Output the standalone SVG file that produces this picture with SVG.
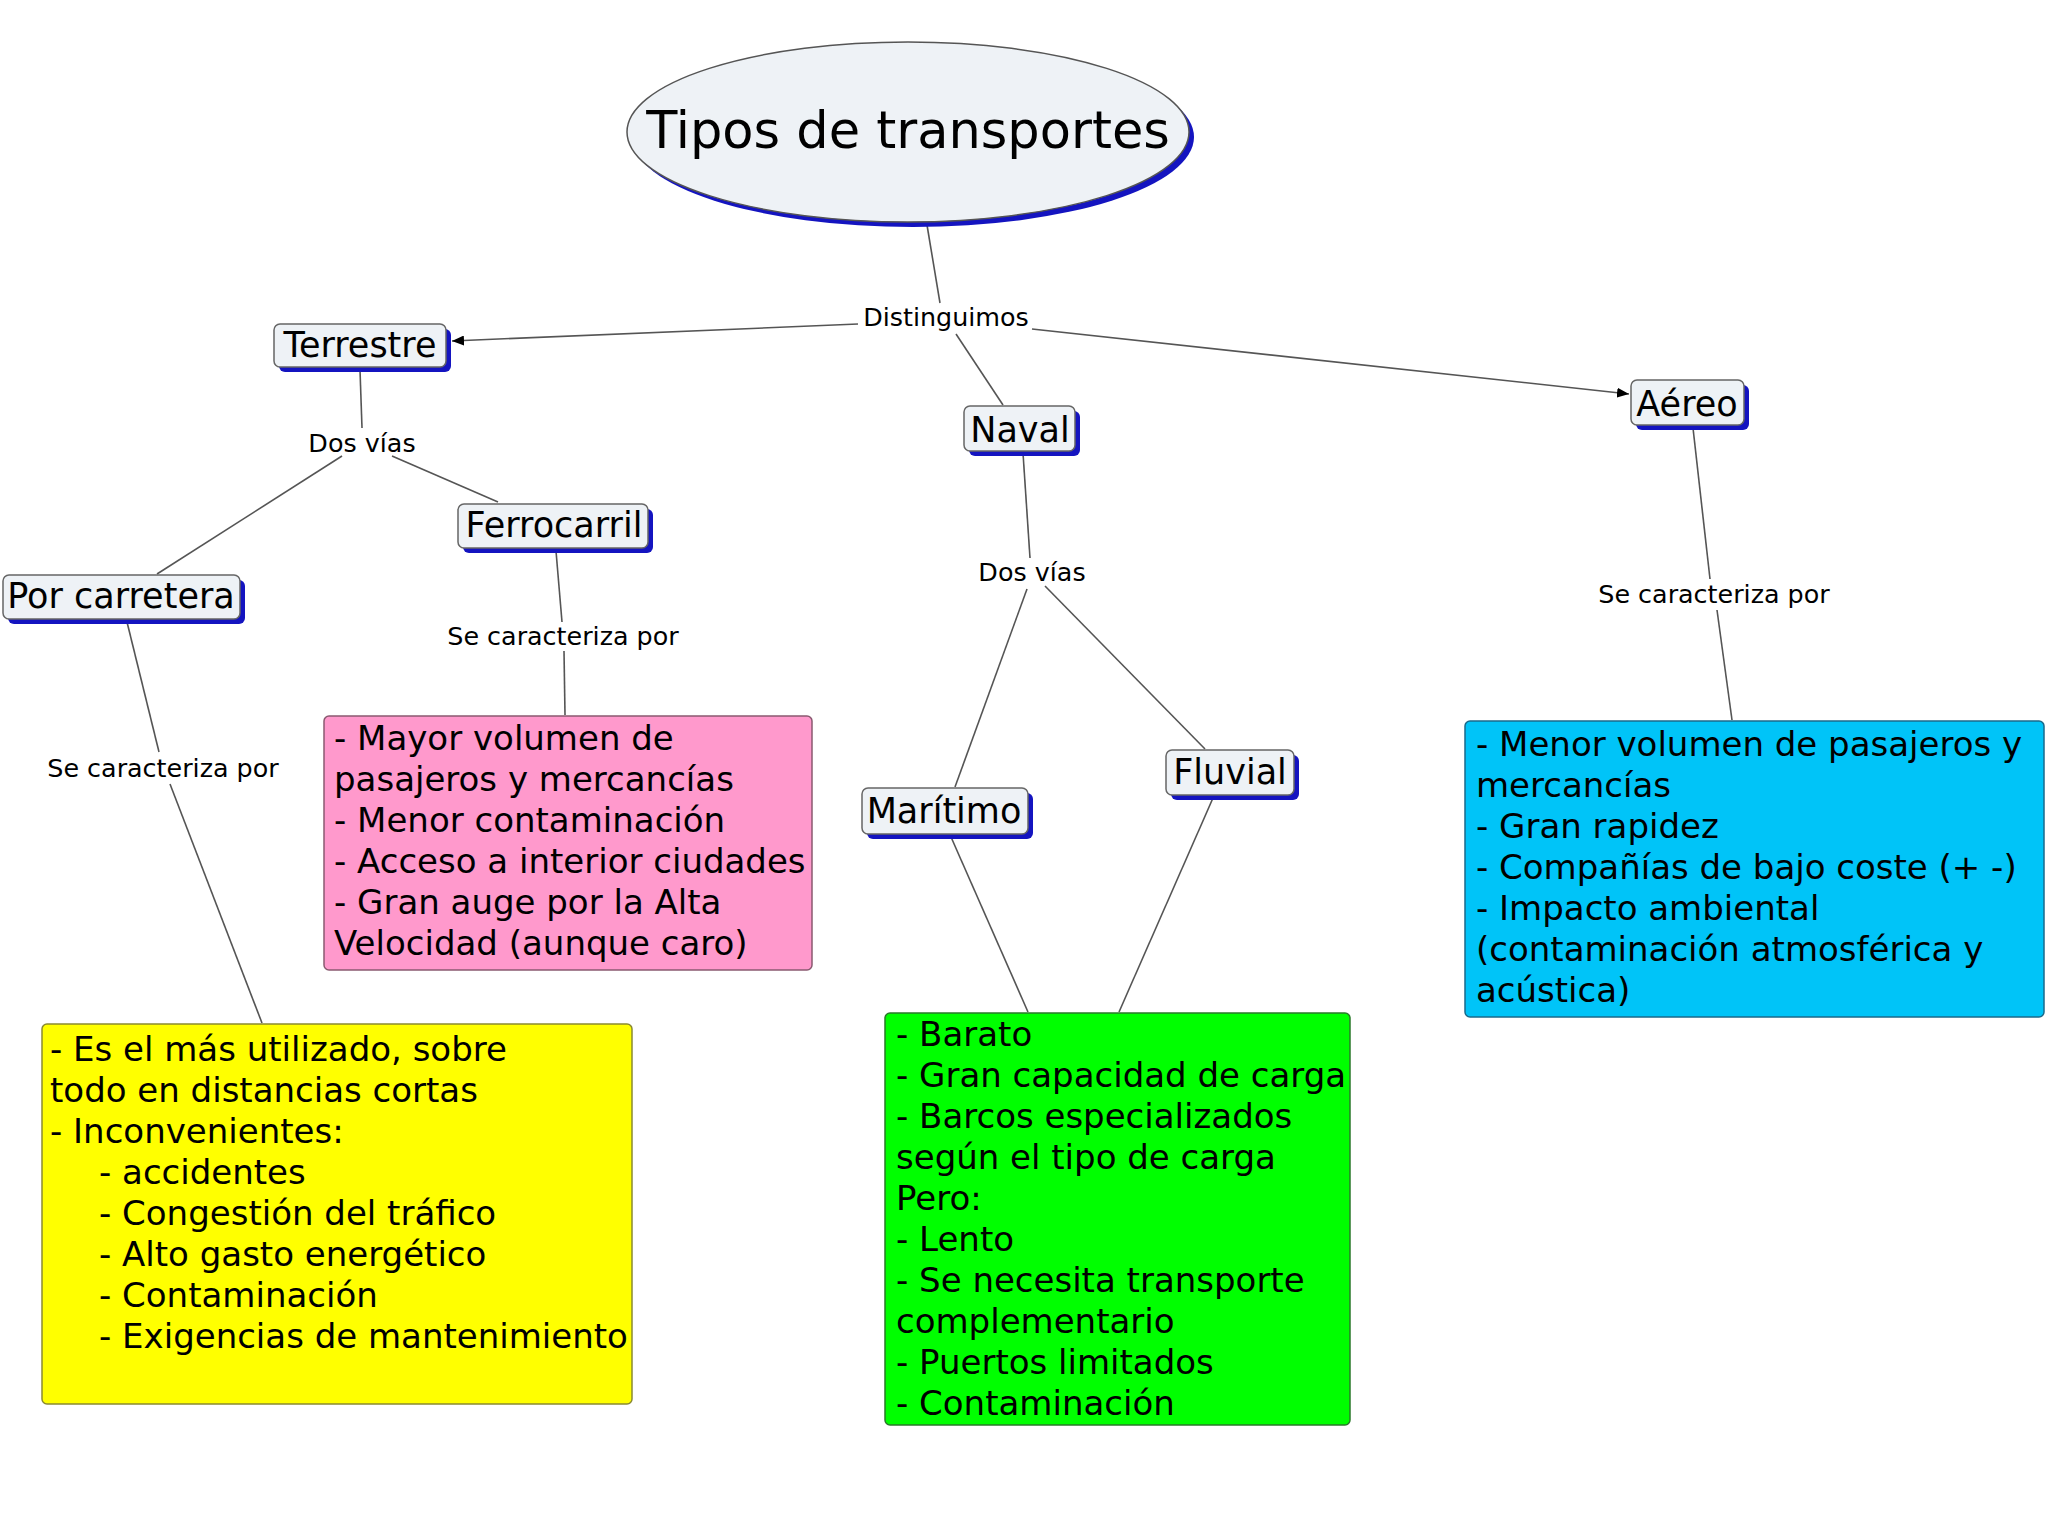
<svg xmlns="http://www.w3.org/2000/svg" width="2048" height="1536" viewBox="0 0 2048 1536">
<defs>
<marker id="arr" viewBox="0 0 12 10" refX="12" refY="5" markerWidth="12" markerHeight="10" markerUnits="userSpaceOnUse" orient="auto">
<path d="M0,0 L12,5 L0,10 Z" fill="#000"/>
</marker>
</defs>
<style>
.node rect.bg{fill:#eef2f6;stroke:#666;stroke-width:1.5}
.node rect.sh{fill:#1414c0}
.nt{font-family:"DejaVu Sans",Verdana,sans-serif;font-size:35px;fill:#000;text-anchor:middle}
.lbl{font-family:"DejaVu Sans",Verdana,sans-serif;font-size:25.4px;fill:#000;text-anchor:middle}
.bt{font-family:"DejaVu Sans",Verdana,sans-serif;font-size:34px;fill:#000}
.conn line{stroke:#555;stroke-width:1.6;fill:none}
</style>
<rect width="2048" height="1536" fill="#fff"/>

<g class="conn" id="connectors">
<line x1="927" y1="225" x2="940" y2="303"/>
<line x1="858" y1="324" x2="452" y2="341" marker-end="url(#arr)"/>
<line x1="956" y1="334" x2="1003" y2="405"/>
<line x1="1032" y1="329" x2="1629" y2="394" marker-end="url(#arr)"/>
<line x1="360" y1="370" x2="362" y2="428"/>
<line x1="342" y1="456" x2="157" y2="574"/>
<line x1="392" y1="456" x2="498" y2="502"/>
<line x1="556" y1="551" x2="562" y2="622"/>
<line x1="564" y1="651" x2="565" y2="715"/>
<line x1="127" y1="622" x2="159" y2="752"/>
<line x1="170" y1="784" x2="262" y2="1023"/>
<line x1="1023" y1="453" x2="1030" y2="558"/>
<line x1="1027" y1="589" x2="955" y2="787"/>
<line x1="1045" y1="586" x2="1205" y2="749"/>
<line x1="951" y1="837" x2="1028" y2="1012"/>
<line x1="1213" y1="798" x2="1119" y2="1012"/>
<line x1="1693" y1="428" x2="1710" y2="579"/>
<line x1="1717" y1="610" x2="1732" y2="720"/>
</g>

<g id="lbl-distinguimos"><text class="lbl" x="946" y="326">Distinguimos</text></g>
<g id="lbl-dosvias1"><text class="lbl" x="362" y="452">Dos vías</text></g>
<g id="lbl-secar1"><text class="lbl" x="563" y="645">Se caracteriza por</text></g>
<g id="lbl-secar2"><text class="lbl" x="163" y="777">Se caracteriza por</text></g>
<g id="lbl-dosvias2"><text class="lbl" x="1032" y="581">Dos vías</text></g>
<g id="lbl-secar3"><text class="lbl" x="1714" y="603">Se caracteriza por</text></g>

<g id="title">
<ellipse cx="913" cy="137" rx="281" ry="90" fill="#1414c0"/>
<ellipse cx="908" cy="132" rx="281" ry="90" fill="#eef2f6" stroke="#555" stroke-width="1.5"/>
<text x="908" y="148" font-family="'DejaVu Sans',Verdana,sans-serif" font-size="51" text-anchor="middle">Tipos de transportes</text>
</g>

<g class="node" id="terrestre">
<rect class="sh" x="279" y="329" width="172" height="43" rx="6"/>
<rect class="bg" x="274" y="324" width="172" height="43" rx="6"/>
<text class="nt" x="360" y="357">Terrestre</text>
</g>
<g class="node" id="naval">
<rect class="sh" x="969" y="411" width="111" height="45" rx="6"/>
<rect class="bg" x="964" y="406" width="111" height="45" rx="6"/>
<text class="nt" x="1020" y="442">Naval</text>
</g>
<g class="node" id="aereo">
<rect class="sh" x="1636" y="385" width="113" height="45" rx="6"/>
<rect class="bg" x="1631" y="380" width="113" height="45" rx="6"/>
<text class="nt" x="1687" y="416">Aéreo</text>
</g>
<g class="node" id="ferrocarril">
<rect class="sh" x="463" y="509" width="190" height="44" rx="6"/>
<rect class="bg" x="458" y="504" width="190" height="44" rx="6"/>
<text class="nt" x="554" y="537">Ferrocarril</text>
</g>
<g class="node" id="carretera">
<rect class="sh" x="8" y="580" width="237" height="44" rx="6"/>
<rect class="bg" x="3" y="575" width="237" height="44" rx="6"/>
<text class="nt" x="121" y="608">Por carretera</text>
</g>
<g class="node" id="maritimo">
<rect class="sh" x="867" y="793" width="166" height="46" rx="6"/>
<rect class="bg" x="862" y="788" width="166" height="46" rx="6"/>
<text class="nt" x="944" y="823">Marítimo</text>
</g>
<g class="node" id="fluvial">
<rect class="sh" x="1171" y="755" width="128" height="45" rx="6"/>
<rect class="bg" x="1166" y="750" width="128" height="45" rx="6"/>
<text class="nt" x="1230" y="784">Fluvial</text>
</g>

<g id="box-ferrocarril">
<rect x="324" y="716" width="488" height="254" rx="5" fill="#ff99cc" stroke="#8a5a70" stroke-width="1.5"/>
<text class="bt" x="334" y="750">- Mayor volumen de</text>
<text class="bt" x="334" y="791">pasajeros y mercancías</text>
<text class="bt" x="334" y="832">- Menor contaminación</text>
<text class="bt" x="334" y="873">- Acceso a interior ciudades</text>
<text class="bt" x="334" y="914">- Gran auge por la Alta</text>
<text class="bt" x="334" y="955">Velocidad (aunque caro)</text>
</g>

<g id="box-carretera">
<rect x="42" y="1024" width="590" height="380" rx="5" fill="#ffff00" stroke="#8a8a30" stroke-width="1.5"/>
<text class="bt" x="50" y="1061">- Es el más utilizado, sobre</text>
<text class="bt" x="50" y="1102">todo en distancias cortas</text>
<text class="bt" x="50" y="1143">- Inconvenientes:</text>
<text class="bt" x="99" y="1184">- accidentes</text>
<text class="bt" x="99" y="1225">- Congestión del tráfico</text>
<text class="bt" x="99" y="1266">- Alto gasto energético</text>
<text class="bt" x="99" y="1307">- Contaminación</text>
<text class="bt" x="99" y="1348">- Exigencias de mantenimiento</text>
</g>

<g id="box-naval">
<rect x="885" y="1013" width="465" height="412" rx="5" fill="#00ff00" stroke="#2a7a2a" stroke-width="1.5"/>
<text class="bt" x="896" y="1046">- Barato</text>
<text class="bt" x="896" y="1087">- Gran capacidad de carga</text>
<text class="bt" x="896" y="1128">- Barcos especializados</text>
<text class="bt" x="896" y="1169">según el tipo de carga</text>
<text class="bt" x="896" y="1210">Pero:</text>
<text class="bt" x="896" y="1251">- Lento</text>
<text class="bt" x="896" y="1292">- Se necesita transporte</text>
<text class="bt" x="896" y="1333">complementario</text>
<text class="bt" x="896" y="1374">- Puertos limitados</text>
<text class="bt" x="896" y="1415">- Contaminación</text>
</g>

<g id="box-aereo">
<rect x="1465" y="721" width="579" height="296" rx="5" fill="#00c4f8" stroke="#1a6a8a" stroke-width="1.5"/>
<text class="bt" x="1476" y="756">- Menor volumen de pasajeros y</text>
<text class="bt" x="1476" y="797">mercancías</text>
<text class="bt" x="1476" y="838">- Gran rapidez</text>
<text class="bt" x="1476" y="879">- Compañías de bajo coste (+ -)</text>
<text class="bt" x="1476" y="920">- Impacto ambiental</text>
<text class="bt" x="1476" y="961">(contaminación atmosférica y</text>
<text class="bt" x="1476" y="1002">acústica)</text>
</g>
</svg>
